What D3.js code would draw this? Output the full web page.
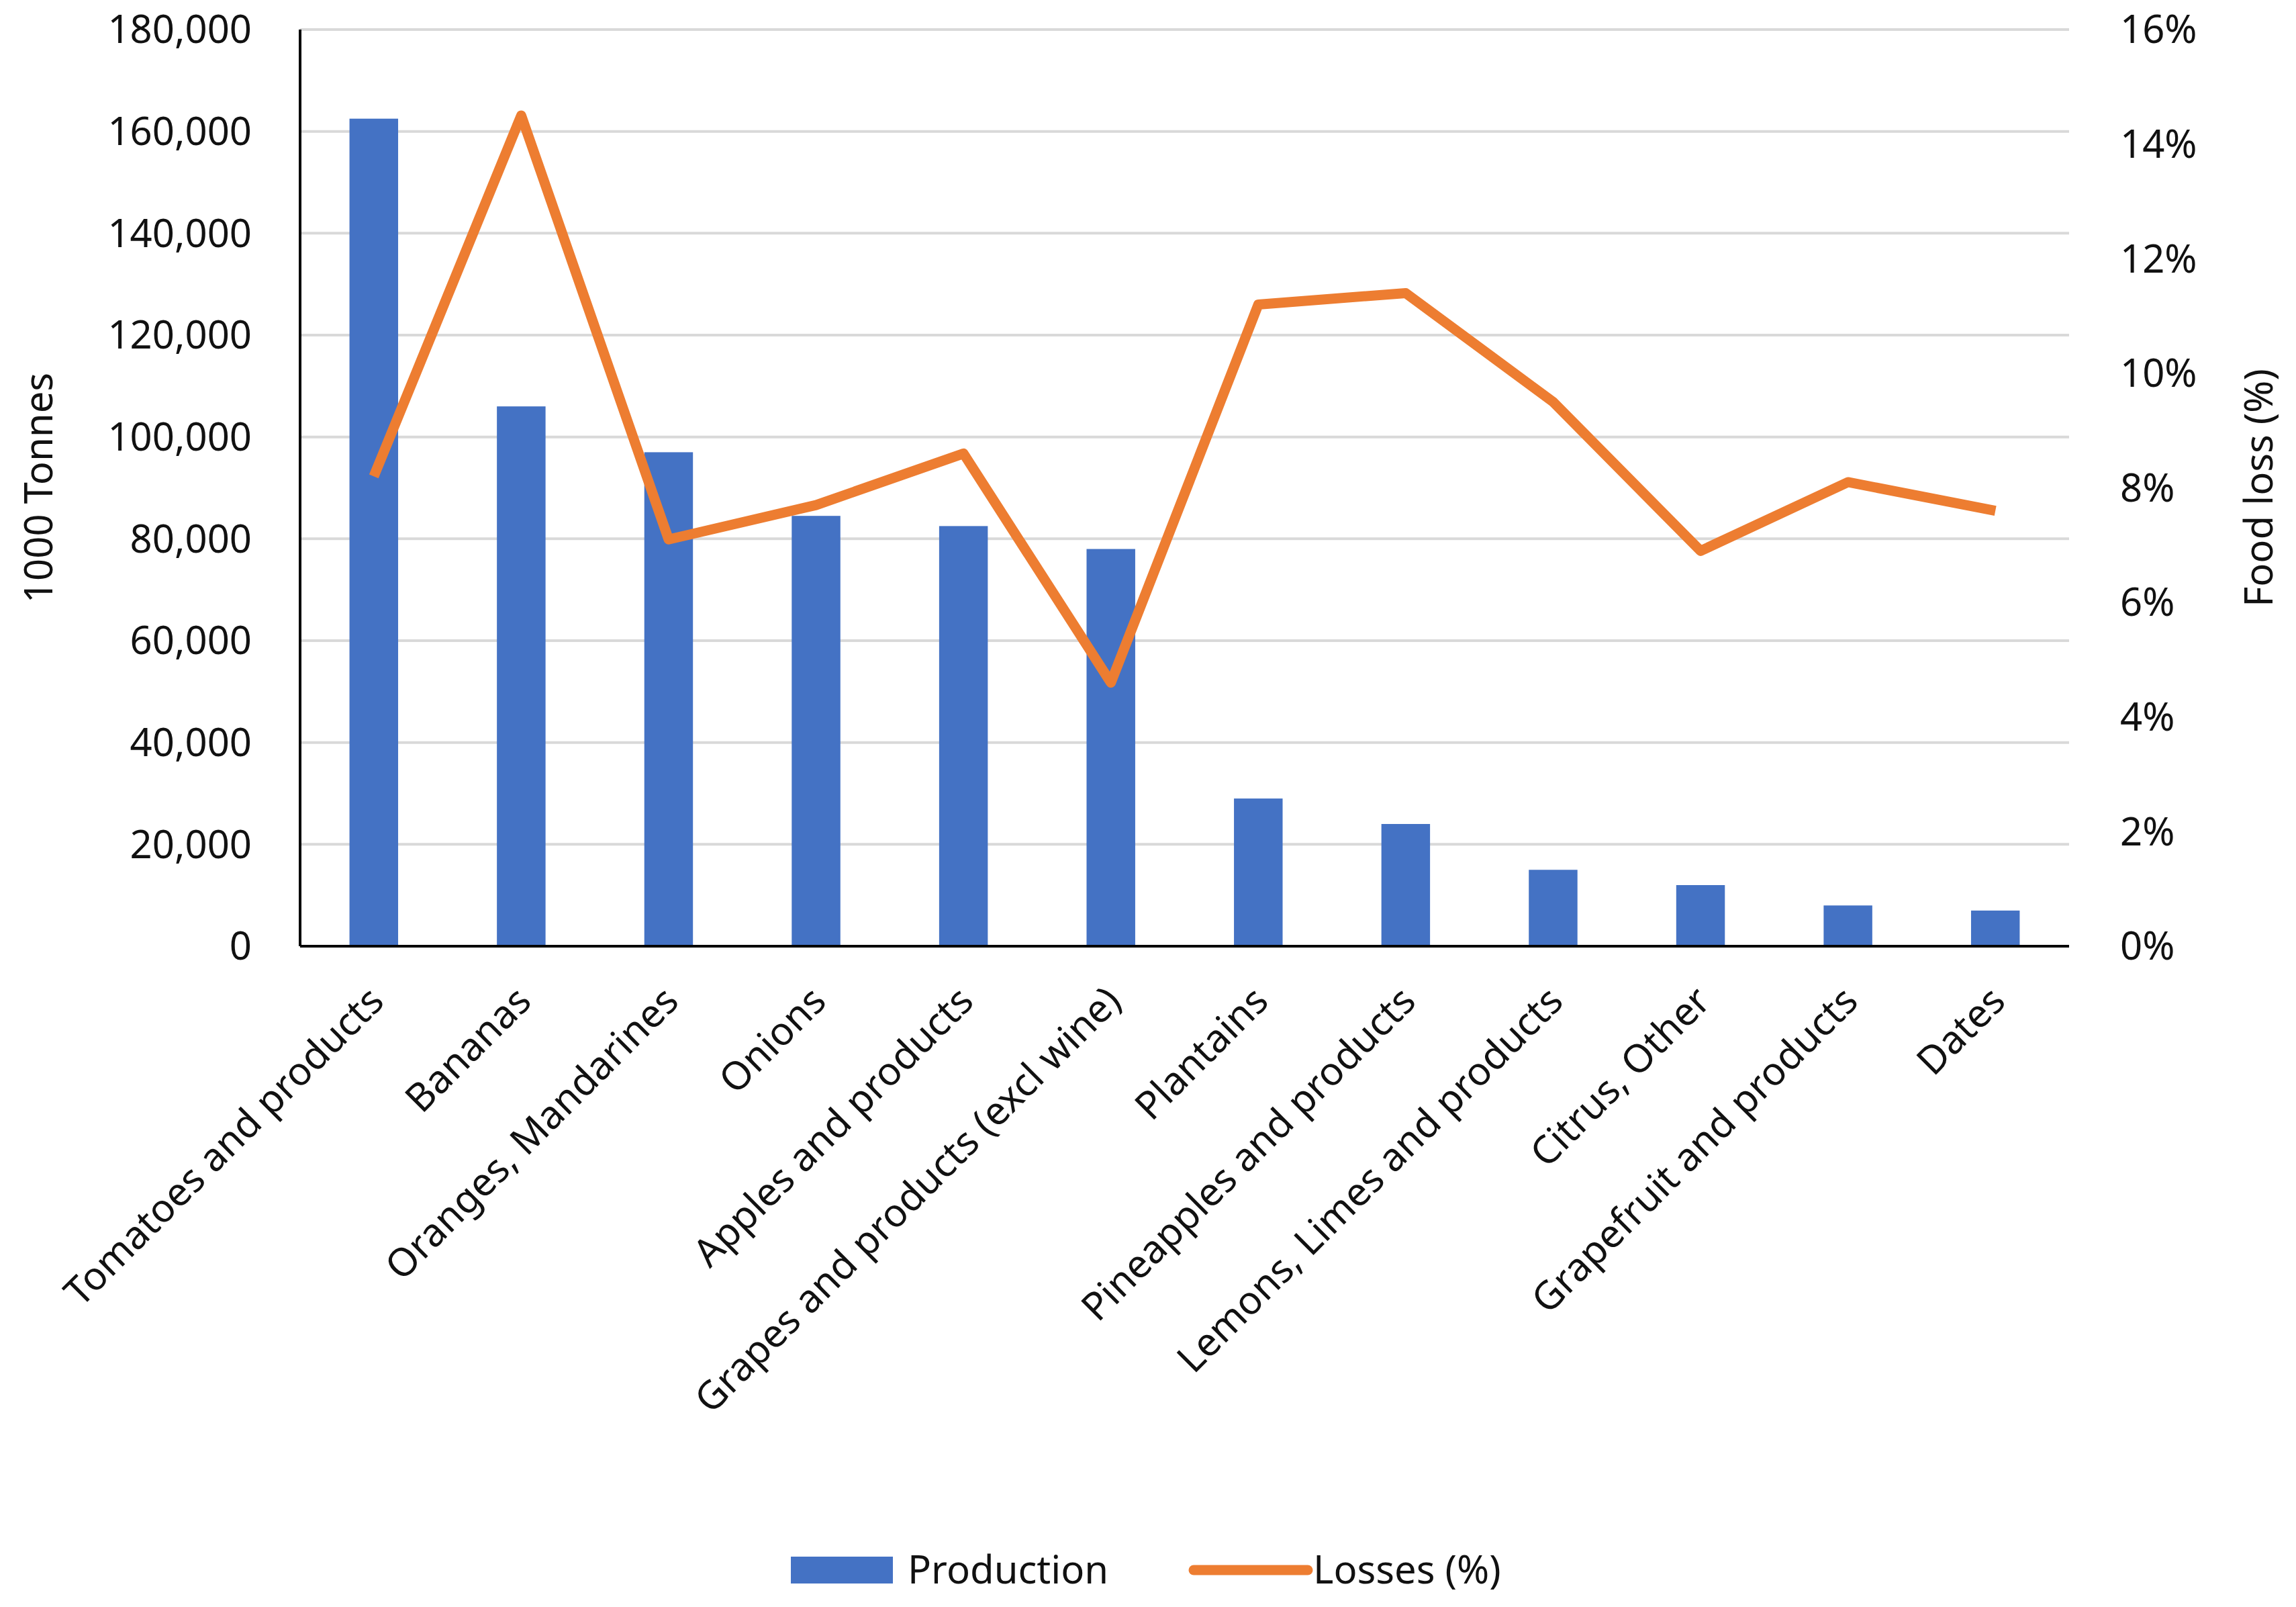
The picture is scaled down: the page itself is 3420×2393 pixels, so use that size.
<!DOCTYPE html>
<html><head><meta charset="utf-8">
<script src="https://cdn.jsdelivr.net/npm/d3@7"></script>
<style>body{margin:0;background:#fff}svg{font-family:"Noto Sans",sans-serif}</style>
</head><body><svg id="c" width="3420" height="2393"></svg>
<script>
const categories=["Tomatoes and products","Bananas","Oranges, Mandarines","Onions","Apples and products","Grapes and products (excl wine)","Plantains","Pineapples and products","Lemons, Limes and products","Citrus, Other","Grapefruit and products","Dates"];
const production=[162500,106000,97000,84500,82500,78000,29000,24000,15000,12000,8000,7000];
const losses=[8.2,14.5,7.1,7.7,8.6,4.6,11.2,11.4,9.5,6.9,8.1,7.6];
const leftTicks=[0,20000,40000,60000,80000,100000,120000,140000,160000,180000];
const rightTicks=[0,2,4,6,8,10,12,14,16];

const svg=d3.select("#c");
const L=447,R=3082,T=44,B=1409;
const x=d3.scaleBand().domain(categories).range([L,R]).paddingInner(0.67).paddingOuter(0.335);
const y=d3.scaleLinear().domain([0,180000]).range([B,T]);
const y2=d3.scaleLinear().domain([0,16]).range([B,T]);
const fs=58;
svg.append("g").selectAll("line").data(leftTicks.slice(1)).join("line")
 .attr("x1",L).attr("x2",R).attr("y1",d=>y(d)).attr("y2",d=>y(d)).attr("stroke","#d9d9d9").attr("stroke-width",4);
svg.append("g").selectAll("rect").data(production).join("rect")
 .attr("x",(d,i)=>x(categories[i])).attr("width",x.bandwidth()).attr("y",d=>y(d)).attr("height",d=>B-y(d)).attr("fill","#4472C4");
svg.append("path").datum(losses).attr("fill","none").attr("stroke","#ED7D31").attr("stroke-width",15).attr("stroke-linejoin","round")
 .attr("d",d3.line().x((d,i)=>x(categories[i])+x.bandwidth()/2).y(d=>y2(d)));
svg.append("line").attr("x1",L).attr("x2",L).attr("y1",T).attr("y2",B).attr("stroke","#000").attr("stroke-width",4);
svg.append("line").attr("x1",L).attr("x2",R).attr("y1",B).attr("y2",B).attr("stroke","#000").attr("stroke-width",4);
svg.append("g").selectAll("text").data(leftTicks).join("text")
 .attr("x",375).attr("y",d=>y(d)).attr("dy","0.35em").attr("text-anchor","end").attr("font-size",fs).attr("fill","#111")
 .text(d=>d3.format(",")(d));
svg.append("g").selectAll("text").data(rightTicks).join("text")
 .attr("x",3158).attr("y",d=>y2(d)).attr("dy","0.35em").attr("text-anchor","start").attr("font-size",fs).attr("fill","#111")
 .text(d=>d+"%");
svg.append("g").selectAll("text").data(categories).join("text")
 .attr("transform",d=>`translate(${x(d)+x.bandwidth()/2+18},${B+85}) rotate(-45)`)
 .attr("text-anchor","end").attr("font-size",fs).attr("fill","#111").text(d=>d);
svg.append("text").attr("transform",`translate(78,${(T+B)/2}) rotate(-90)`).attr("text-anchor","middle").attr("font-size",fs).attr("fill","#111").text("1000 Tonnes");
svg.append("text").attr("transform",`translate(3385,${(T+B)/2}) rotate(-90)`).attr("text-anchor","middle").attr("font-size",fs).attr("fill","#111").text("Food loss (%)");
const ly=2338;
svg.append("rect").attr("x",1178).attr("y",ly-20).attr("width",152).attr("height",40).attr("fill","#4472C4");
svg.append("text").attr("x",1352).attr("y",ly).attr("dy","0.35em").attr("font-size",fs).attr("fill","#111").text("Production");
svg.append("line").attr("x1",1778).attr("x2",1948).attr("y1",ly).attr("y2",ly).attr("stroke","#ED7D31").attr("stroke-width",15).attr("stroke-linecap","round");
svg.append("text").attr("x",1956).attr("y",ly).attr("dy","0.35em").attr("font-size",fs).attr("fill","#111").text("Losses (%)");
</script></body></html>
